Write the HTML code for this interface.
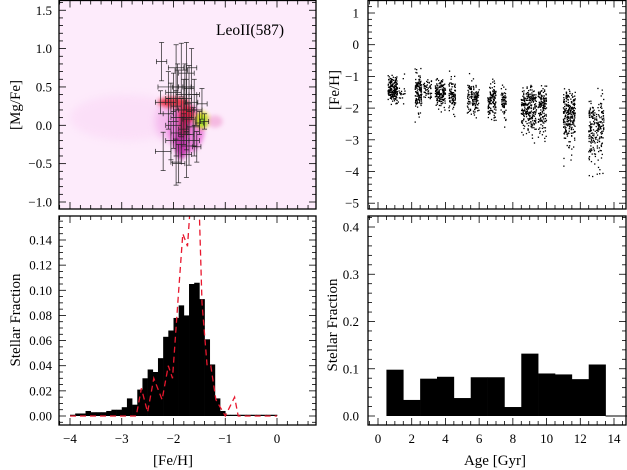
<!DOCTYPE html>
<html><head><meta charset="utf-8"><style>
body{margin:0;background:#fff}
svg{display:block;font-family:"Liberation Serif",serif}
</style></head><body>
<svg id="fig" width="627" height="470" viewBox="0 0 627 470">
<defs>
<filter id="blur4" x="-50%" y="-50%" width="200%" height="200%"><feGaussianBlur stdDeviation="4"/></filter>
<filter id="blur2" x="-50%" y="-50%" width="200%" height="200%"><feGaussianBlur stdDeviation="2"/></filter>
<clipPath id="clipTL"><rect x="59" y="0" width="257" height="209"/></clipPath>
<clipPath id="clipBL"><rect x="59" y="216" width="257" height="209"/></clipPath>
</defs>
</svg>
<script>
// ---------- DATA ----------
const fehBinStart = [-4.0,-3.9,-3.8,-3.7,-3.6,-3.5,-3.4,-3.3,-3.2,-3.1,-3.0,-2.9,-2.8,-2.7,-2.6,-2.5,-2.4,-2.3,-2.2,-2.1,-2.0,-1.9,-1.8,-1.7,-1.6,-1.5,-1.4,-1.3,-1.2,-1.1,-1.0,-0.9,-0.8,-0.7,-0.6,-0.5,-0.4,-0.3,-0.2,-0.1];
const fehFrac = [0.001,0.002,0.002,0.004,0.003,0.003,0.003,0.004,0.005,0.005,0.007,0.014,0.009,0.021,0.030,0.037,0.035,0.046,0.063,0.068,0.078,0.088,0.080,0.105,0.106,0.093,0.061,0.041,0.014,0.004,0.001,0.001,0.001,0.001,0.001,0.001,0.001,0.001,0.001,0.001];
const modelFeh = [-4,-2.72,-2.62,-2.5,-2.38,-2.22,-2.1,-2.02,-1.9,-1.82,-1.73,-1.68,-1.6,-1.5,-1.45,-1.35,-1.28,-1.18,-1.0,-0.82,-0.75,0];
const modelFrac = [0,0,0.022,0.003,0.03,0.013,0.04,0.03,0.1,0.145,0.135,0.165,0.2,0.16,0.09,0.04,0.04,0.013,0,0.015,0,0];
const ageBinStart = [0.5,1.5,2.5,3.5,4.5,5.5,6.5,7.5,8.5,9.5,10.5,11.5,12.5];
const ageFrac = [0.098,0.034,0.079,0.083,0.038,0.082,0.082,0.019,0.132,0.090,0.088,0.078,0.109];
// star formation bursts
const burstAgeMin = [0.6,1.2,2.2,2.7,3.4,4.2,5.3,6.5,7.3,8.5,9.5,11.0,12.5];
const burstAgeMax = [1.15,1.6,2.6,3.2,4.0,4.6,6.0,7.0,7.6,9.4,10.0,11.7,13.4];
const burstFeh = [-1.4,-1.5,-1.5,-1.45,-1.55,-1.6,-1.7,-1.8,-1.8,-2.0,-1.95,-2.2,-2.6];
const burstSd = [0.2,0.2,0.27,0.2,0.2,0.25,0.25,0.28,0.28,0.3,0.3,0.35,0.45];
const burstN = [180,20,130,50,150,90,130,120,60,260,150,250,220];
// observed stars
const obsFeh = [-2.23,-1.95,-1.85,-1.65,-1.75,-1.92,-2.1,-1.78,-1.7,-2.0,-1.75,-1.6,-2.05,-1.8,-2.25,-1.65,-1.45,-1.95,-1.75,-2.1,-1.55,-1.85,-1.7,-1.4,-1.5,-2.0,-1.8,-1.62,-1.95,-1.75,-2.05,-1.85,-1.6,-1.7,-1.55,-2.2,-1.75,-1.9,-1.95];
const obsMg = [0.83,0.75,0.72,0.75,0.68,0.5,0.5,0.5,0.48,0.43,0.4,0.4,0.35,0.35,0.3,0.3,0.28,0.25,0.2,0.15,0.2,0.1,0.08,0.05,0.03,0.0,-0.05,-0.02,-0.1,-0.12,-0.2,-0.2,-0.2,-0.27,-0.28,-0.34,-0.38,-0.5,-0.48];
const obsXerr = [0.1,0.15,0.12,0.1,0.15,0.1,0.2,0.12,0.1,0.15,0.2,0.1,0.1,0.15,0.1,0.12,0.1,0.1,0.15,0.1,0.1,0.2,0.12,0.08,0.08,0.15,0.1,0.12,0.1,0.15,0.1,0.15,0.1,0.15,0.08,0.15,0.1,0.12,0.1];
const obsYerr = [0.25,0.3,0.35,0.25,0.4,0.3,0.2,0.3,0.3,0.25,0.2,0.2,0.2,0.25,0.15,0.2,0.2,0.2,0.3,0.2,0.2,0.25,0.2,0.1,0.15,0.3,0.2,0.25,0.3,0.2,0.25,0.3,0.2,0.25,0.2,0.25,0.3,0.25,0.3];
// density blobs
const blobFeh = [-2.9,-2.0,-1.75,-1.85,-2.0,-1.75,-1.8,-1.45,-1.43,-1.2];
const blobMg = [0.1,0.05,-0.05,-0.25,0.3,0.15,0.0,0.07,0.05,0.05];
const blobRx = [1.1,0.35,0.35,0.12,0.3,0.15,0.1,0.14,0.07,0.15];
const blobRy = [0.3,0.28,0.32,0.2,0.07,0.12,0.15,0.11,0.06,0.08];
const blobCol = ["#f9d2f5","#f2aaea","#e873d8","#b4209c","#e82b3c","#e11e2e","#a8124e","#d7e01c","#86e22c","#f09ad0"];
const blobOp = [0.45,0.7,0.85,0.8,0.9,0.85,0.85,0.95,0.95,0.6];

// ---------- HELPERS ----------
const svg = document.getElementById('fig');
const NS = 'http://www.w3.org/2000/svg';
function mk(tag, attrs, parent){const e=document.createElementNS(NS,tag);for(const k in attrs)e.setAttribute(k,attrs[k]);(parent||svg).appendChild(e);return e;}
function lin(d0,p0,d1,p1){return v=>p0+(v-d0)*(p1-p0)/(d1-d0);}

const xFeh = lin(-4,70,0,277);
const yMg = lin(0,125.3,1,48.6);
const yFrac = lin(0,416,0.14,240);
const xAge = lin(0,378,14,614);
const yFehR = lin(0,44.7,1,13);
const yAgeFrac = lin(0,416,0.4,227);

function axes(name,x0,y0,x1,y1,xs,xmin,xmax,xmaj,xmin_step,ys,ymin,ymax,ymaj,ymin_step){
  const g=mk('g',{});
  
  
  const eps=1e-6;
  for(let v=Math.ceil(xmin/xmin_step)*xmin_step; v<=xmax+eps; v+=xmin_step){
    const px=xs(v); if(px<x0||px>x1)continue;
    const major=Math.abs(v/xmaj-Math.round(v/xmaj))<1e-4;
    const L=major?7:4;
    mk('line',{x1:px,y1:y1,x2:px,y2:y1-L,stroke:'#000','stroke-width':0.8},g);
    mk('line',{x1:px,y1:y0,x2:px,y2:y0+L,stroke:'#000','stroke-width':0.8},g);
  }
  for(let v=Math.ceil(ymin/ymin_step)*ymin_step; v<=ymax+eps; v+=ymin_step){
    const py=ys(v); if(py<y0||py>y1)continue;
    const major=Math.abs(v/ymaj-Math.round(v/ymaj))<1e-4;
    const L=major?7:4;
    mk('line',{x1:x0,y1:py,x2:x0+L,y2:py,stroke:'#000','stroke-width':0.8},g);
    mk('line',{x1:x1,y1:py,x2:x1-L,y2:py,stroke:'#000','stroke-width':0.8},g);
  }
  mk('rect',{x:x0,y:y0,width:x1-x0,height:y1-y0,fill:'none',stroke:'#000','stroke-width':1.3},g);
}
function text(s,x,y,name,opts){
  const t=mk('text',Object.assign({x:x,y:y,'font-size':13,'text-anchor':'middle'},opts||{}));
  t.textContent=s;
  
  
  return t;
}
function fmtMinus(s){return s.replace('-','\u2212');}

// ---------- TOP LEFT ----------
const tl=mk('g',{'clip-path':'url(#clipTL)'});


mk('rect',{x:59,y:0,width:257,height:209,fill:'#fdebfb'},tl);
for(let i=0;i<blobFeh.length;i++){
  const cx=xFeh(blobFeh[i]), cy=yMg(blobMg[i]);
  const rx=Math.abs(xFeh(blobFeh[i]+blobRx[i])-cx), ry=Math.abs(yMg(blobMg[i]+blobRy[i])-cy);
  const e=mk('ellipse',{cx:cx,cy:cy,rx:rx,ry:ry,fill:blobCol[i],opacity:blobOp[i],filter:i<2?'url(#blur4)':'url(#blur2)'},tl);
  
  
}
for(let i=0;i<obsFeh.length;i++){
  const g=mk('g',{stroke:'#222','stroke-width':0.7},tl);
  
  
  const cx=xFeh(obsFeh[i]), cy=yMg(obsMg[i]);
  const xa=xFeh(obsFeh[i]-obsXerr[i]), xb=xFeh(obsFeh[i]+obsXerr[i]);
  const ya=yMg(obsMg[i]+obsYerr[i]), yb=yMg(obsMg[i]-obsYerr[i]);
  mk('line',{x1:xa,y1:cy,x2:xb,y2:cy},g);
  mk('line',{x1:cx,y1:ya,x2:cx,y2:yb},g);
  mk('line',{x1:xa,y1:cy-2.5,x2:xa,y2:cy+2.5},g);
  mk('line',{x1:xb,y1:cy-2.5,x2:xb,y2:cy+2.5},g);
  mk('line',{x1:cx-2.5,y1:ya,x2:cx+2.5,y2:ya},g);
  mk('line',{x1:cx-2.5,y1:yb,x2:cx+2.5,y2:yb},g);
}
axes('top-left',59,0.5,316,209,xFeh,-4.2,0.75,1,0.2,yMg,-1.1,1.65,0.5,0.1);
[1.5,1.0,0.5,0.0,-0.5,-1.0].forEach(v=>text(fmtMinus(v.toFixed(1)),52,yMg(v)+4.5,'mgfe-tick-label',{'text-anchor':'end'}));
text('LeoII(587)',250,35,'galaxy-label',{'font-size':15.5});
text('[Mg/Fe]',20,105,'y-axis-title-mgfe',{'font-size':15,transform:'rotate(-90 20 105)'});

// ---------- BOTTOM LEFT ----------
const bl=mk('g',{'clip-path':'url(#clipBL)'});


for(let i=0;i<fehBinStart.length;i++){
  const x0=xFeh(fehBinStart[i]), x1=xFeh(fehBinStart[i]+0.1);
  const y=yFrac(fehFrac[i]);
  const r=mk('rect',{x:x0,y:y,width:x1-x0+0.3,height:yFrac(0)-y,fill:'#000'},bl);
  
  
}
const pts=modelFeh.map((v,i)=>xFeh(v).toFixed(1)+','+yFrac(modelFrac[i]).toFixed(1)).join(' ');
const pl=mk('polyline',{points:pts,fill:'none',stroke:'#e8182e','stroke-width':1.3,'stroke-dasharray':'6,4'},bl);


axes('bottom-left',59,216,316,425,xFeh,-4.2,0.75,1,0.2,yFrac,-0.01,0.16,0.02,0.005);
[0,0.02,0.04,0.06,0.08,0.10,0.12,0.14].forEach(v=>text(v.toFixed(2),52,yFrac(v)+4.5,'mdf-tick-label',{'text-anchor':'end'}));
[-4,-3,-2,-1,0].forEach(v=>text(fmtMinus(String(v)),xFeh(v),443,'feh-tick-label'));
text('[Fe/H]',173,465,'x-axis-title-feh',{'font-size':15});
text('Stellar Fraction',20,320,'y-axis-title-fraction-left',{'font-size':15,transform:'rotate(-90 20 320)'});

// ---------- TOP RIGHT ----------
const tr=mk('g',{});


let seed=12345;
function rnd(){seed=(seed*1103515245+12345)%2147483648;return seed/2147483648;}
function gauss(){let u=rnd()||1e-6,v=rnd();return Math.sqrt(-2*Math.log(u))*Math.cos(2*Math.PI*v);}
for(let b=0;b<burstN.length;b++){
  for(let k=0;k<burstN[b];k++){
    const age=burstAgeMin[b]+rnd()*(burstAgeMax[b]-burstAgeMin[b]);
    let g=gauss(); if(g<0 && b>=9) g*=1.4;
    const feh=burstFeh[b]+burstSd[b]*g;
    const d=mk('rect',{x:xAge(age)-0.6,y:yFehR(feh)-0.6,width:1.3,height:1.3,fill:'#000'},tr);
    
    
  }
}
axes('top-right',368,0.5,626,209,xAge,-0.6,14.8,2,0.5,yFehR,-5.2,1.4,1,0.2);
[1,0,-1,-2,-3,-4,-5].forEach(v=>text(fmtMinus(String(v)),359,yFehR(v)+4.5,'feh-right-tick-label',{'text-anchor':'end'}));
text('[Fe/H]',339,90,'y-axis-title-feh-right',{'font-size':15,transform:'rotate(-90 339 90)'});

// ---------- BOTTOM RIGHT ----------
const br=mk('g',{});


for(let i=0;i<ageBinStart.length;i++){
  const x0=xAge(ageBinStart[i]), x1=xAge(ageBinStart[i]+1);
  const y=yAgeFrac(ageFrac[i]);
  const r=mk('rect',{x:x0,y:y,width:x1-x0+0.3,height:yAgeFrac(0)-y,fill:'#000'},br);
  
  
}
mk('line',{x1:xAge(13.5),y1:416,x2:xAge(14.8),y2:416,stroke:'#000','stroke-width':1},br);
axes('bottom-right',368,216,626,425,xAge,-0.6,14.8,2,0.5,yAgeFrac,-0.02,0.42,0.1,0.02);
[0,0.1,0.2,0.3,0.4].forEach(v=>text(v.toFixed(1),359,yAgeFrac(v)+4.5,'agefrac-tick-label',{'text-anchor':'end'}));
[0,2,4,6,8,10,12,14].forEach(v=>text(String(v),xAge(v),443,'age-tick-label'));
text('Age [Gyr]',495,465,'x-axis-title-age',{'font-size':15});
text('Stellar Fraction',337,325,'y-axis-title-fraction-right',{'font-size':15,transform:'rotate(-90 337 325)'});
</script>
</body></html>
